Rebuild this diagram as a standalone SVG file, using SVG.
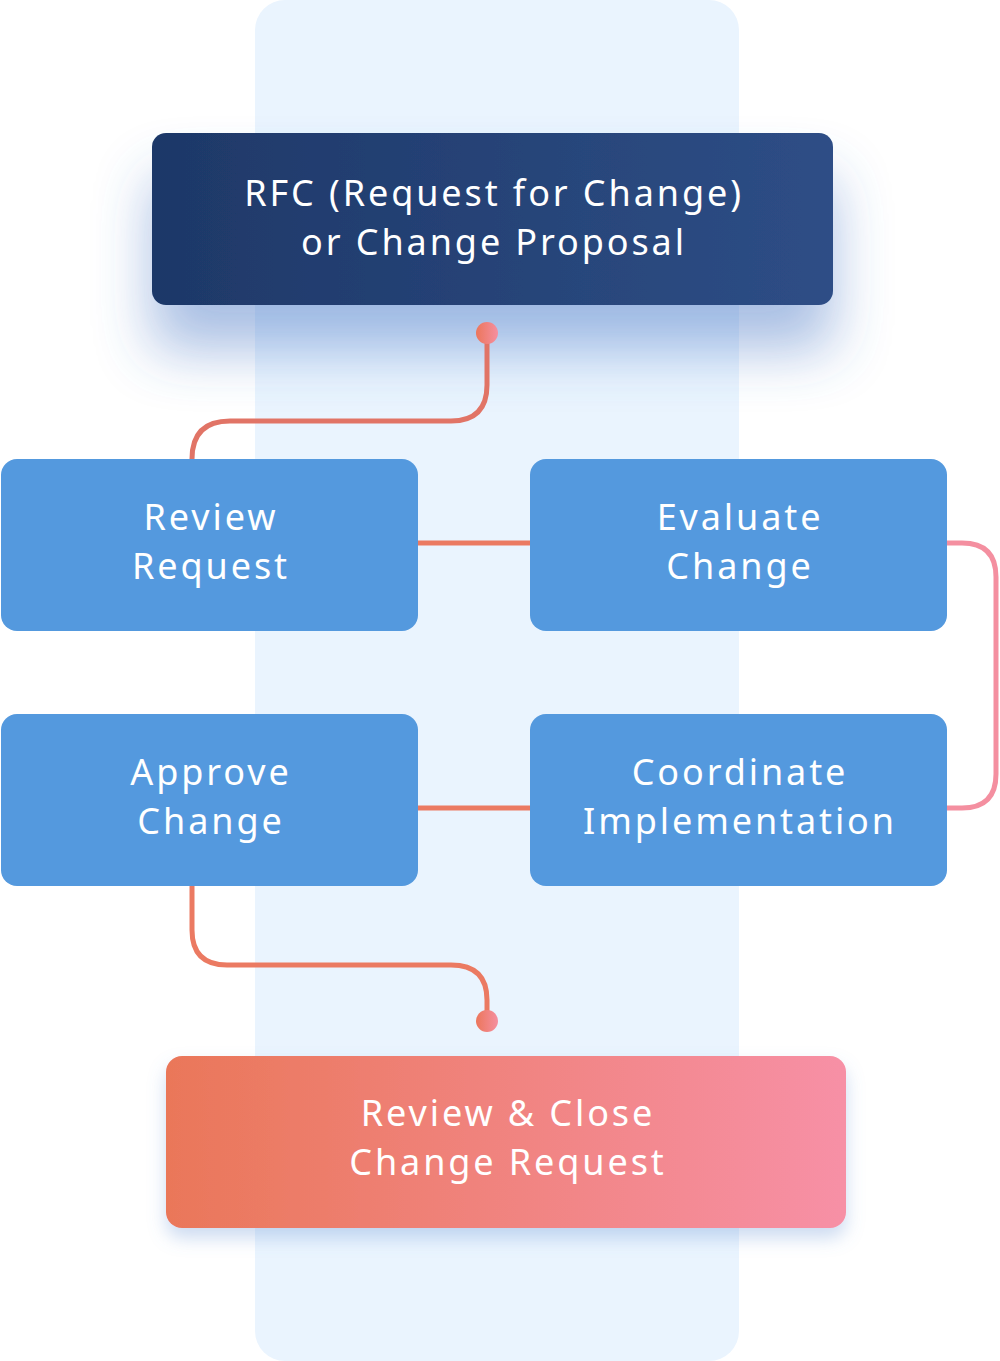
<svg xmlns="http://www.w3.org/2000/svg" width="1000" height="1361" viewBox="0 0 1000 1361">
<defs>
<linearGradient id="gTop" x1="0" y1="0" x2="1" y2="0"><stop offset="0" stop-color="#1E3868"/><stop offset="1" stop-color="#2E4E86"/></linearGradient>
<linearGradient id="gBot" x1="0" y1="0" x2="1" y2="0"><stop offset="0" stop-color="#EA7759"/><stop offset="1" stop-color="#F790A6"/></linearGradient>
<linearGradient id="gDot" x1="0" y1="0" x2="1" y2="0"><stop offset="0" stop-color="#EC765B"/><stop offset="1" stop-color="#F58FA0"/></linearGradient>
<filter id="shTop" x="-20%" y="-30%" width="140%" height="200%"><feDropShadow dx="0" dy="45" stdDeviation="28" flood-color="#3F72C2" flood-opacity="0.45"/></filter>
<filter id="shBot" x="-10%" y="-20%" width="120%" height="160%"><feDropShadow dx="0" dy="10" stdDeviation="9" flood-color="#6F98D6" flood-opacity="0.35"/></filter>
<style>
.blue{fill:#5499DE}
.t{font-family:"Noto Sans","Open Sans",sans-serif;font-size:36px;letter-spacing:2.9px;fill:#FFFFFF;text-anchor:middle}
.c{fill:none;stroke:#EB7A62;stroke-width:5;stroke-linecap:round}
</style>
</defs>
<rect x="255" y="0" width="484" height="1361" rx="30" fill="#EAF4FE"/>
<g id="rfc">
<rect x="152" y="133" width="681" height="172" rx="14" fill="url(#gTop)" filter="url(#shTop)"/>
<text class="t"><tspan x="494" y="206">RFC (Request for Change)</tspan><tspan x="494" y="255">or Change Proposal</tspan></text>
</g>
<g id="connectors">
<path class="c" d="M487 333 V385 Q487 421 451 421 H230 Q192 421 192 459" style="stroke:#E17466"/>
<path class="c" d="M418 543 H530" stroke-linecap="butt"/>
<path class="c" d="M947 543 H962 Q996 543 996 577 V774 Q996 808 962 808 H947" style="stroke:#F48FA0"/>
<path class="c" d="M418 808 H530" stroke-linecap="butt"/>
<path class="c" d="M192 886 V930 Q192 965 227 965 H451 Q487 965 487 1000 V1015"/>
<circle cx="487" cy="333" r="11" fill="url(#gDot)"/>
<circle cx="487" cy="1021" r="11" fill="url(#gDot)"/>
</g>
<g id="review-request">
<rect class="blue" x="1" y="459" width="417" height="172" rx="16"/>
<text class="t"><tspan x="211" y="530">Review</tspan><tspan x="211" y="579">Request</tspan></text>
</g>
<g id="evaluate-change">
<rect class="blue" x="530" y="459" width="417" height="172" rx="16"/>
<text class="t"><tspan x="740" y="530">Evaluate</tspan><tspan x="740" y="579">Change</tspan></text>
</g>
<g id="approve-change">
<rect class="blue" x="1" y="714" width="417" height="172" rx="16"/>
<text class="t"><tspan x="211" y="785">Approve</tspan><tspan x="211" y="834">Change</tspan></text>
</g>
<g id="coordinate-implementation">
<rect class="blue" x="530" y="714" width="417" height="172" rx="16"/>
<text class="t"><tspan x="740" y="785">Coordinate</tspan><tspan x="740" y="834">Implementation</tspan></text>
</g>
<g id="review-close">
<rect x="166" y="1056" width="680" height="172" rx="16" fill="url(#gBot)" filter="url(#shBot)"/>
<text class="t"><tspan x="508" y="1126">Review &amp; Close</tspan><tspan x="508" y="1175">Change Request</tspan></text>
</g>
</svg>
